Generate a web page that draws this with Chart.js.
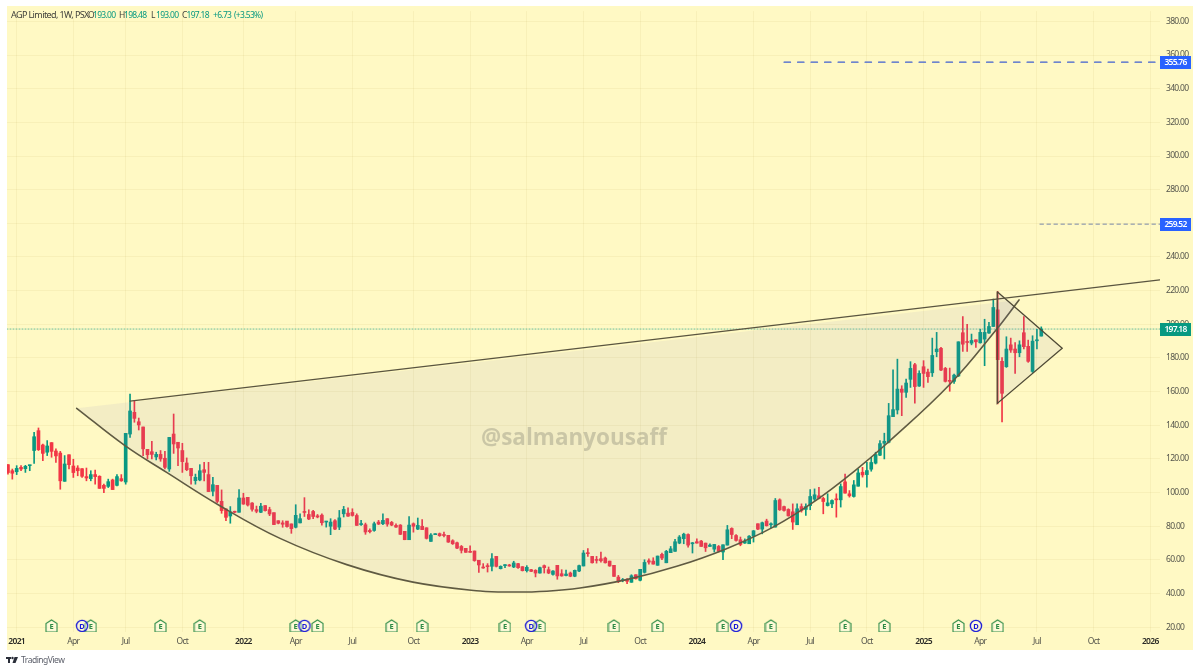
<!DOCTYPE html>
<html><head><meta charset="utf-8">
<style>html,body{margin:0;padding:0;background:#fff}canvas{display:block}</style>
<script src="https://cdn.jsdelivr.net/npm/chart.js@4/dist/chart.umd.min.js"></script>
</head><body><div style="width:1200px;height:672px;position:relative"><canvas id="c" width="1200" height="672"></canvas></div>
<script>
const firstWeek=-2;
const opens=[116.6,113,112.4,115,114.2,116,125,136.8,128.3,124,129.7,124.7,123.5,106.7,122.5,115.8,114.6,114.2,109.5,108.3,110.7,109.7,104.3,103.7,107.5,104.3,108.3,106.3,134.8,147.7,142.1,139,125.7,124.3,121.2,122.7,120.4,114,134.8,129.9,125,117.6,114.4,107.1,107.5,113.6,110.7,100.8,104.3,94.8,90.3,86.1,88.7,88.3,96.8,97.2,93.8,89.9,88.3,92.3,89.9,88.1,83.3,82,83.1,81.4,79.4,82,
88.8,87,88.8,86.2,86.6,82.5,80,83.3,79.5,87.4,87.8,88.2,86.4,81,80.9,77.5,77.5,82.5,81.5,84.5,82.3,80.5,80.7,77,72,81.5,78.3,80,79.1,71,75,75.6,75,74.6,71.4,70.2,68,66.9,64.7,65.3,59.8,55.4,56.2,56.2,62.1,54.8,56.6,57,55.8,57.8,56,53.6,54.2,53.8,52.2,56.6,54.2,51.4,56.8,51.8,50.7,52.2,50.3,53.4,
56.4,64.3,62.1,60.1,60.7,61.1,59.3,56.8,49.8,47.7,48.5,46.7,51.2,47.9,52.6,59.5,59.3,56.8,63.3,58.3,64.3,65.1,70,72.6,75.1,69.6,70.8,71.2,70,68,66.4,68,64.7,68.8,78.7,74.5,72,70,69.6,74.1,81.5,78.3,83.1,80.9,79.5,95.7,91.7,90,88.6,80.9,91.7,90,92.3,96.1,98.1,96.5,92.3,93.3,96.3,95.7,106.4,99.3,97.7,103.8,112.1,110.7,113.9,117.5,122.2,129.3,129.9,145.1,149.1,161.5,159.6,167.3,176,163.3,174.8,171.6,171.2,183.7,185.7,173.8,166.5,166.1,169.3,195,189.6,188.8,190.8,189,191.2,194.8,198.7,208.6,178,174.8,187.8,185.3,183.1,195,186.9,172,190.2,193];
const closes=[111.9,111.5,114.4,114,115.6,116.3,133.2,125.5,123.3,127.7,124.5,121.8,107,117,116.6,111.9,113,109.7,108.7,110.7,109.5,102.5,102.5,106.5,101.8,109.5,107,135.2,148.5,144.1,140.2,126,122.5,122.7,122.7,120,115,132.8,128.9,126.5,118.4,113.6,110,109.1,113,112,100.6,104.7,94.8,89.3,85.3,88.5,88.3,96.8,93.2,92.6,90.1,88.9,91.9,89.3,87.3,81,81.8,81.2,79.8,78.6,86.5,84.5,
88.2,84.3,85.8,85.5,82.1,82.9,82.5,78.3,85,90,86,86.4,80.5,81.5,76.6,76.8,81.5,81.3,83.5,81.3,80.7,79.5,75.2,72,80.7,80,80.5,78,72.8,74.8,75.6,74.4,74.5,70.6,69.6,67,65.7,64.5,64.5,59.6,57,55.2,56,60.7,56.2,56.2,57.2,56.4,58.2,55.4,53.6,55.6,53.2,52.2,55.4,55.4,52.2,53.4,50.5,50.5,51.6,50.3,53.8,56.6,
64.1,63.7,58.3,59.7,59.5,58.3,56.4,50.2,47.3,48.3,47.3,50.6,48.8,54.4,58.5,58.7,57.5,62.3,61.1,65.1,66.6,70.8,73.6,75.3,68.8,70.2,70,68,67.2,68.8,69.2,65.1,69,77.9,75.1,71.6,69.2,71.2,74.1,77.3,78.3,82.1,80.3,81.5,95.3,89.8,89.4,86.2,82.5,90.4,89.4,91.7,97.7,98.7,96.5,94.7,93.9,95.3,95.7,103.6,99.7,98.1,104.6,111.7,110.5,113.1,117.9,122.6,129.1,130.5,145.7,149.3,161.5,159.6,165.1,173.8,163,170.8,170.8,168.9,181.5,185.3,172.8,166.1,166.1,169.8,189.6,188.2,189.2,190.4,189.6,195.2,195.2,198.7,210,179,159,185.3,184.7,183.1,187.8,186.7,178,190,190.8,197.18];
const highs=[116.6,114,116,116,116.2,116.3,135.8,138.4,128.9,130.9,129.7,126,124.5,122,122.5,119.8,116,114.2,114.6,113,113.4,110,105,108,108,110.7,110.7,135.2,158.6,154.6,144.3,139,125.7,130.5,124,125,124.5,132.8,146.7,129.9,129.3,120.6,114.4,111,116.6,118,118,109,104.3,101.6,90.3,91.7,89,101.8,99.6,97.2,94,92,93.6,92.3,91.3,88,83.3,83.3,83,81.4,92.8,87.4,
97,89.8,89.4,87,87.4,83,84.5,83.9,89.4,91.8,91,90.4,87.4,83.5,81.9,78.5,82.5,83.5,87.4,84.5,82.9,81.5,81,77,85.8,82,84.9,83.9,79.1,75.6,75.6,76,76.5,74.6,72,70.6,68.6,66.9,68.3,65.3,59.8,57.8,57.8,63.7,62.1,56.5,57.2,57.4,59.2,58,56,56.6,54.4,54.2,55.8,57,55.8,53.6,56.8,54.2,54,52.8,54,57,
65.6,66.8,62.1,62.1,64.7,61.7,59.3,56.8,50.8,49,48.9,51.2,51.2,54.4,60.1,60.7,61.3,62.3,64.1,65.7,68,72.2,74.5,75.9,75.5,70.4,72.6,71.6,70,69.6,69.2,68.6,69,80.5,79.1,75.1,73.6,72.5,74.5,77.5,81.5,82.5,84.2,82,96.5,96.3,92,90.4,93.3,93.3,93.3,93.3,101.8,102.2,103.2,97.3,99.3,95.7,99.3,105.2,111,101.2,107.2,114,115,118,121,124,130.9,135.3,153,173,179.3,163.5,167.5,177.8,176.8,172.4,178.4,173.4,191.8,195.2,186.3,174.4,174,170.4,189.6,204.6,200,194.2,190.8,197.1,203,201.1,215,219.5,180.3,192.6,191.8,189.2,190.2,204.6,190.6,193.2,197,198.48];
const lows=[111,108,110.7,113,112,113,117.4,125,119,122,121,118,102,106.7,114,109,110,109,107,107,105,102.5,100,103,101.8,104,106.7,105,132.8,141.8,137.2,122,120,120,119.4,118.6,114,112.6,123.3,116,112,113,105,105,107,107,100.6,98,94,87.7,83.3,81.8,88,88.3,93,92,89,88,88,89,86.3,81,81.4,79.4,79.4,75.8,79,82,
85.8,83.9,84.5,85,80.7,79.5,75,78,78,85.5,85.8,86,80.5,80.5,75.2,76,77,81,81,80,80.3,79.3,75,72,72,76.5,78,78,72.4,71,75,74,73.6,70.4,69.2,66.7,64.1,64.5,64.5,59.2,52.6,55,52.8,53.4,55.8,54.6,55.4,56.2,55.4,55,53.4,52.8,53,49.9,52.2,52.2,51.8,51,48.5,50.3,50.5,50,50,53,
56.4,62.1,58.1,58.1,58.7,58.1,56.2,50.2,46.5,47,45.9,46.7,48.6,47.5,52.2,57.4,57.5,56.8,60.1,58.3,64.3,65.1,69.6,69.6,67.6,64.1,70,68,65,68,64.7,64.7,60.1,68.8,72.6,71.2,68.4,69.8,69.6,70.6,77.9,75.5,80.1,79,79.5,89.4,89,86,78.1,80.9,88.4,86.4,89.8,95.3,96.3,87.4,92,91,85.4,91.4,99.7,97.3,97.3,103.8,109.2,103.2,112.7,117,122,120,129.5,145.1,146.7,145.7,156.6,162.5,153.2,163.1,162.5,165.5,169,180.7,172.4,165.7,160.2,164.9,169,183.9,183.9,187.8,186.3,188.8,175.4,194.6,198.7,152.7,142,174.4,183.3,170.8,180.7,185.3,177.4,171.4,185.3,193];

const tickWeeks=[0,13,25,38,52,64,77,91,104,117,130,143,156,169,182,195,208,221,234,247,260];
const tickLabels=['2021','Apr','Jul','Oct','2022','Apr','Jul','Oct','2023','Apr','Jul','Oct','2024','Apr','Jul','Oct','2025','Apr','Jul','Oct','2026'];
const priceTicks=[20,40,60,80,100,120,140,160,180,200,220,240,260,280,300,320,340,360,380];

const rimWeeks=[26,262.2];
const rimPrices=[154.4,226.4];
const cupWeeks=[13.76,24.84,34.4,46.6,60.4,75.7,90.9,106.3,113.8,121.6,129.2,139.9,151.4,162.8,173.5,183.5,192.3,199.9,214.1,224.8,229.9];
const cupPrices=[150.1,127.9,112,92.2,72.8,57.2,46.8,41.5,40.9,41.4,43.3,48.3,56.2,66.7,79.5,95.7,113.1,129.9,164.5,197.2,214.5];
const triWeeks=[224.9,239.8,224.9,224.9];
const triPrices=[219.3,185.7,153,219.3];
const targetA=355.76, targetAWeeks=[176,262.2];
const targetB=259.52, targetBWeeks=[234.7,262.2];
const lastClose=197.18, lastWeeks=[-2.22,262.2];
const earningsWeeks=[8,17,33,42,64,69,86,93,112,120,137,147,162,173,190,199,216,225];
const dividendWeeks=[15,66,118,165,220];
const markerPrice=20.8;

const UP='#089981', DOWN='#F23645', FONT='"Noto Sans"';
const weeks=opens.map((_,i)=>i+firstWeek);
const candleColor=ctx=>closes[ctx.dataIndex]>=opens[ctx.dataIndex]?UP:DOWN;

function houseIcon(){
  const c=document.createElement('canvas');c.width=13;c.height=14;
  const g=c.getContext('2d');g.strokeStyle='#2e8b47';g.fillStyle='rgba(255,255,255,.35)';g.lineWidth=1.1;
  g.beginPath();g.moveTo(6.5,1);g.lineTo(12,4.5);g.lineTo(12,13);g.lineTo(1,13);g.lineTo(1,4.5);g.closePath();g.fill();g.stroke();
  return c;
}
function circleIcon(){
  const c=document.createElement('canvas');c.width=14;c.height=14;
  const g=c.getContext('2d');g.strokeStyle='#1616d8';g.fillStyle='rgba(255,255,255,.35)';g.lineWidth=1.3;
  g.beginPath();g.arc(7,7,5.6,0,Math.PI*2);g.fill();g.stroke();
  return c;
}
const xy=(xs,ys)=>xs.map((x,i)=>({x,y:ys[i]}));
const flat=(xs,v)=>xs.map(x=>({x,y:v}));
const lineBase={type:'line',pointRadius:0,borderCapStyle:'round',fill:false,tension:0};
const SHADE='rgba(120,120,200,.09)';

const panel={id:'panel',beforeDraw(ch){const g=ch.ctx;g.fillStyle='#FFF9C4';g.fillRect(7,6,1186,644);g.letterSpacing='-0.7px';}};
const overlay={id:'overlay',afterDraw(ch){
  const g=ch.ctx,y=ch.scales.y;g.save();
  g.letterSpacing='0px';
  g.font='bold 22.5px "Open Sans"';g.fillStyle='rgba(110,110,95,.3)';g.textAlign='center';g.textBaseline='middle';
  g.fillText('@salmanyousaff',574,439);
  g.font='bold 7.5px '+FONT;g.fillStyle='#2e8b47';
  ch.getDatasetMeta(ch.data.datasets.findIndex(d=>d.label==='Earnings')).data.forEach(p=>g.fillText('E',p.x,p.y+.5));
  g.fillStyle='#1616d8';
  ch.getDatasetMeta(ch.data.datasets.findIndex(d=>d.label==='Dividends')).data.forEach(p=>g.fillText('D',p.x,p.y+.5));
  g.letterSpacing='-0.75px';
  [[targetA,'#2962FF'],[targetB,'#2962FF'],[lastClose,UP]].forEach(([v,col])=>{
    const py=y.getPixelForValue(v);
    g.fillStyle=col;g.fillRect(1160,Math.round(py)-6,31,13);
    g.fillStyle='#fff';g.font='600 8.5px '+FONT;g.textAlign='center';
    g.fillText(v.toFixed(2),1175.5,py+.5);
  });
  g.textAlign='left';
  g.letterSpacing='-0.6px';g.font='9px '+FONT;g.fillStyle='#3f3f3a';
  g.fillText('AGP Limited, 1W, PSX',11,15.5);
  g.letterSpacing='-0.7px';g.font='8.5px '+FONT;
  [['O',88,'#3f3f3a'],['193.00',93,UP],['H',119,'#3f3f3a'],['198.48',124,UP],['L',151,'#3f3f3a'],['193.00',156,UP],['C',182,'#3f3f3a'],['197.18',186.5,UP],['+6.73',213,UP],['(+3.53%)',234,UP]]
   .forEach(([t,x,c])=>{g.fillStyle=c;g.fillText(t,x,15.5);});
  g.fillStyle='#2a2e39';
  g.fillRect(6,657,5,2);g.fillRect(8,657,2,6);
  g.beginPath();g.arc(12.5,658,1.2,0,7);g.fill();
  g.beginPath();g.moveTo(14.5,657);g.lineTo(18,657);g.lineTo(15.5,663);g.lineTo(12.5,663);g.closePath();g.fill();
  g.letterSpacing='-0.5px';g.fillStyle='#5d606b';g.font='8.5px '+FONT;g.fillText('TradingView',21,661);
  g.restore();
}};

new Chart(document.getElementById('c'),{
  type:'bar',
  data:{datasets:[
    {label:'Wicks',type:'bar',order:20,grouped:false,barThickness:1,backgroundColor:candleColor,data:weeks.map((x,i)=>({x,y:[lows[i],highs[i]]}))},
    {label:'Bodies',type:'bar',order:19,grouped:false,barThickness:3,minBarLength:1,backgroundColor:candleColor,data:weeks.map((x,i)=>({x,y:[opens[i],closes[i]]}))},
    {...lineBase,label:'Last',order:18,borderColor:'rgba(8,153,129,.6)',borderWidth:1,borderDash:[1,2],data:flat(lastWeeks,lastClose)},
    {...lineBase,label:'CupFill',order:17,fill:'shape',backgroundColor:SHADE,borderWidth:0,borderColor:'rgba(0,0,0,0)',data:xy(cupWeeks.concat(cupWeeks[0]),cupPrices.concat(cupPrices[0]))},
    {...lineBase,label:'Cup',order:16,tension:.4,borderColor:'#5f5a42',borderWidth:1.6,data:xy(cupWeeks,cupPrices)},
    {...lineBase,label:'Triangle',order:15,fill:'shape',backgroundColor:SHADE,borderColor:'#4f4a36',borderWidth:1.3,borderJoinStyle:'miter',data:xy(triWeeks,triPrices)},
    {...lineBase,label:'Rim',order:14,borderColor:'#5a5540',borderWidth:1.3,data:xy(rimWeeks,rimPrices)},
    {...lineBase,label:'Target 1',order:13,borderColor:'#3f5fd0',borderWidth:1.2,borderDash:[6.5,7],data:flat(targetAWeeks,targetA)},
    {...lineBase,label:'Target 2',order:12,borderColor:'#6a7aa8',borderWidth:.9,borderDash:[3.5,3.5],data:flat(targetBWeeks,targetB)},
    {label:'Earnings',type:'line',showLine:false,order:2,pointStyle:houseIcon(),data:flat(earningsWeeks,markerPrice)},
    {label:'Dividends',type:'line',showLine:false,order:1,pointStyle:circleIcon(),data:flat(dividendWeeks,markerPrice)}
  ]},
  options:{
    responsive:false,animation:false,devicePixelRatio:1,
    layout:{padding:{left:7,top:6,right:7,bottom:22}},
    plugins:{legend:{display:false},tooltip:{enabled:false},title:{display:false}},
    scales:{
      x:{type:'linear',min:-2.22,max:262.23,offset:false,
        grid:{offset:false,color:'rgba(190,175,90,.11)',lineWidth:1,drawTicks:false},border:{display:false},
        afterBuildTicks(s){s.ticks=tickWeeks.map(value=>({value}));},
        afterFit(s){s.height=18;},
        ticks:{autoSkip:false,maxRotation:0,includeBounds:false,padding:4,
          font:c=>({family:FONT,size:8.5,weight:/^20/.test(tickLabels[c.index])?'600':'400'}),
          color:c=>/^20/.test(tickLabels[c.index])?'#2a2a26':'#55554c',
          callback:(v,i)=>tickLabels[i]}},
      y:{position:'right',min:17.17,max:386.1,
        grid:{color:'rgba(190,175,90,.11)',lineWidth:1,drawTicks:false},border:{display:false},
        afterBuildTicks(s){s.ticks=priceTicks.map(value=>({value}));},
        afterFit(s){s.width=33;},
        ticks:{padding:6,includeBounds:false,color:'#55554c',font:{family:FONT,size:8.5},callback:v=>v.toFixed(2)}}
    }
  },
  plugins:[panel,overlay]
});
</script></body></html>
